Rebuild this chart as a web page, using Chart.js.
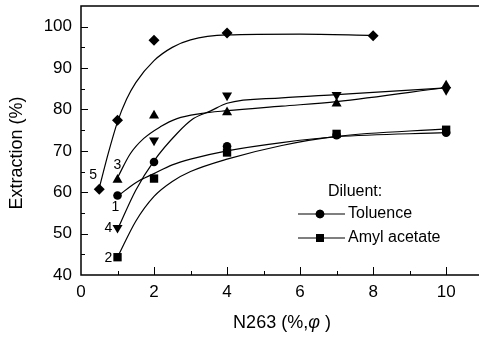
<!DOCTYPE html>
<html>
<head>
<meta charset="utf-8">
<script src="https://cdn.jsdelivr.net/npm/chart.js@4.4.1/dist/chart.umd.min.js"></script>
<style>
  body { margin: 0; background: #fff; }
  canvas { display: block; }
</style>
</head>
<body>
<canvas id="chart" width="479" height="338"></canvas>
<script>
// measured points (N263 %, extraction %)
var x1 = [1, 2, 4, 7, 10];
var y1 = [59.2, 67.3, 71.1, 73.8, 74.4];   // 1 - circle
var x2 = [1, 2, 4, 7, 10];
var y2 = [44.3, 63.3, 69.6, 74.1, 75.1];   // 2 - square
var x3 = [1, 2, 4, 7, 10];
var y3 = [63.0, 78.5, 79.3, 81.4, 85.8];   // 3 - up triangle
var x4 = [1, 2, 4, 7, 10];
var y4 = [51.4, 72.5, 83.4, 83.5, 84.7];   // 4 - down triangle
var x5 = [0.5, 1, 2, 4, 8];
var y5 = [60.7, 77.4, 96.7, 98.5, 97.8];   // 5 - diamond

// fitted curves
var fitX1 = [1, 1.5, 2, 2.5, 3, 4, 5.5, 7, 10];
var fitY1 = [59, 62.3, 64.5, 66.6, 68, 70, 72, 73.4, 74.4];
var fitX2 = [1, 1.5, 2, 2.5, 3, 4, 5.5, 7, 10];
var fitY2 = [44.3, 53, 59, 62.6, 65, 68, 71.3, 73.5, 75.3];
var fitX3 = [1, 1.35, 1.72, 2.17, 2.63, 3.27, 4, 5.5, 7, 10];
var fitY3 = [63.5, 69.3, 73, 75.8, 77.8, 79, 79.7, 80.8, 81.9, 85.3];
var fitX4 = [1, 1.5, 2, 2.63, 3.08, 3.54, 4, 5.5, 7, 10];
var fitY4 = [51, 60.5, 67.6, 74.2, 77.8, 79.6, 81.5, 82.8, 83.6, 85.2];
var fitX5 = [0.5, 0.75, 1, 1.25, 1.5, 2, 2.5, 3, 4, 6, 8];
var fitY5 = [61, 69.5, 77, 82.5, 86.5, 91.8, 95, 96.8, 98, 98.2, 97.9];

var xTicks = [0, 2, 4, 6, 8, 10];
var yTicks = [40, 50, 60, 70, 80, 90, 100];
var curveNumbers = ["1", "2", "3", "4", "5"];
var legendTitle = "Diluent:";
var legendLabels = ["Toluence", "Amyl acetate"];

var FONT = "'Liberation Sans', Arial, sans-serif";

function pts(xs, ys) {
  return xs.map(function (x, i) { return { x: x, y: ys[i] }; });
}

function markers(xs, ys, style, radius, rotation) {
  return {
    type: "scatter",
    data: pts(xs, ys),
    showLine: false,
    pointStyle: style,
    pointRadius: radius,
    pointRotation: rotation || 0,
    backgroundColor: "#000",
    borderColor: "#000",
    borderWidth: 0,
    order: 1,
  };
}

function curve(xs, ys) {
  return {
    type: "line",
    data: pts(xs, ys),
    borderColor: "#000",
    borderWidth: 1.2,
    pointRadius: 0,
    fill: false,
    cubicInterpolationMode: "monotone",
    order: 2,
  };
}

function noPad(s) {
  s.paddingTop = 0;
  s.paddingBottom = 0;
  s.paddingLeft = 0;
  s.paddingRight = 0;
}

// label offsets (px) next to the first point of each series
var numberOffsets = [[-2, 12], [-9, 1], [0, -15], [-9, 0], [-6, -14]];

var decor = {
  id: "decor",
  afterDatasetsDraw: function (chart) {
    var ctx = chart.ctx;
    var a = chart.chartArea;
    var xs = chart.scales.x, ys = chart.scales.y;
    ctx.save();
    ctx.strokeStyle = "#000";
    ctx.fillStyle = "#000";

    // frame: left, bottom, top
    ctx.lineWidth = 1.5;
    ctx.beginPath();
    ctx.moveTo(a.right, a.top);
    ctx.lineTo(a.left, a.top);
    ctx.lineTo(a.left, a.bottom);
    ctx.lineTo(a.right, a.bottom);
    ctx.stroke();

    // inward ticks
    ctx.lineWidth = 1;
    ctx.beginPath();
    for (var v = 1; v <= 10; v++) {
      var px = Math.round(xs.getPixelForValue(v)) + 0.5;
      var len = v % 2 === 0 ? 8 : 4;
      ctx.moveTo(px, a.bottom);
      ctx.lineTo(px, a.bottom - len);
    }
    for (var w = 45; w <= 100; w += 5) {
      var py = Math.round(ys.getPixelForValue(w)) + 0.5;
      var l2 = w % 10 === 0 ? 7 : 4;
      ctx.moveTo(a.left, py);
      ctx.lineTo(a.left + l2, py);
    }
    ctx.stroke();

    // series numbers
    ctx.font = "14px " + FONT;
    ctx.textAlign = "center";
    ctx.textBaseline = "middle";
    var firsts = [[x1[0], y1[0]], [x2[0], y2[0]], [x3[0], y3[0]], [x4[0], y4[0]], [x5[0], y5[0]]];
    firsts.forEach(function (p, i) {
      var cx = xs.getPixelForValue(p[0]) + numberOffsets[i][0];
      var cy = ys.getPixelForValue(p[1]) + numberOffsets[i][1];
      ctx.fillText(curveNumbers[i], cx, cy);
    });

    // legend
    ctx.font = "16px " + FONT;
    ctx.textAlign = "left";
    ctx.fillText(legendTitle, 328, 192);
    var rows = [{ y: 214, style: "circle", r: 4.3 }, { y: 238, style: "rect", r: 5.6 }];
    rows.forEach(function (row, i) {
      ctx.lineWidth = 1.2;
      ctx.beginPath();
      ctx.moveTo(298, row.y);
      ctx.lineTo(345, row.y);
      ctx.stroke();
      Chart.helpers.drawPoint(ctx, { pointStyle: row.style, radius: row.r, rotation: 0, borderWidth: 0 }, 320, row.y);
      ctx.fill();
      ctx.fillText(legendLabels[i], 348, row.y);
    });

    // axis titles
    ctx.font = "18px " + FONT;
    ctx.save();
    ctx.translate(17, 153);
    ctx.rotate(-Math.PI / 2);
    ctx.textAlign = "center";
    ctx.fillText("Extraction (%)", 0, 0);
    ctx.restore();

    var p1 = "N263 (%,", p2 = "\u03c6", p3 = " )";
    ctx.font = "18px " + FONT;
    var w1 = ctx.measureText(p1).width, w3 = ctx.measureText(p3).width;
    ctx.font = "italic 18px " + FONT;
    var w2 = ctx.measureText(p2).width;
    var sx = 282 - (w1 + w2 + w3) / 2;
    ctx.textAlign = "left";
    ctx.font = "18px " + FONT;
    ctx.fillText(p1, sx, 323);
    ctx.font = "italic 18px " + FONT;
    ctx.fillText(p2, sx + w1, 323);
    ctx.font = "18px " + FONT;
    ctx.fillText(p3, sx + w1 + w2, 323);

    ctx.restore();
  },
};

var ctx1 = document.getElementById("chart").getContext("2d");
var myChart = new Chart(ctx1, {
  data: {
    datasets: [
      markers(x1, y1, "circle", 4.3),
      markers(x2, y2, "rect", 5.9),
      markers(x3, y3, "triangle", 5.8),
      markers(x4, y4, "triangle", 5.8, 180),
      markers(x5, y5, "rectRot", 5.5),
      curve(fitX1, fitY1),
      curve(fitX2, fitY2),
      curve(fitX3, fitY3),
      curve(fitX4, fitY4),
      curve(fitX5, fitY5),
    ],
  },
  options: {
    responsive: false,
    animation: false,
    layout: { autoPadding: false, padding: { top: 6, left: 0, right: 0, bottom: 0 } },
    plugins: {
      legend: { display: false },
      tooltip: { enabled: false },
    },
    scales: {
      x: {
        type: "linear",
        min: 0,
        max: 10.9,
        grid: { display: false, drawTicks: false },
        border: { display: false },
        ticks: { color: "#000", font: { family: FONT, size: 17 }, padding: 7, maxRotation: 0 },
        afterBuildTicks: function (s) { s.ticks = xTicks.map(function (v) { return { value: v }; }); },
        afterFit: function (s) { s.height = 63; noPad(s); },
      },
      y: {
        type: "linear",
        min: 40,
        max: 105,
        grid: { display: false, drawTicks: false },
        border: { display: false },
        ticks: { color: "#000", font: { family: FONT, size: 17 }, padding: 9 },
        afterBuildTicks: function (s) { s.ticks = yTicks.map(function (v) { return { value: v }; }); },
        afterFit: function (s) { s.width = 81; noPad(s); },
      },
    },
  },
  plugins: [decor],
});
</script>
</body>
</html>
